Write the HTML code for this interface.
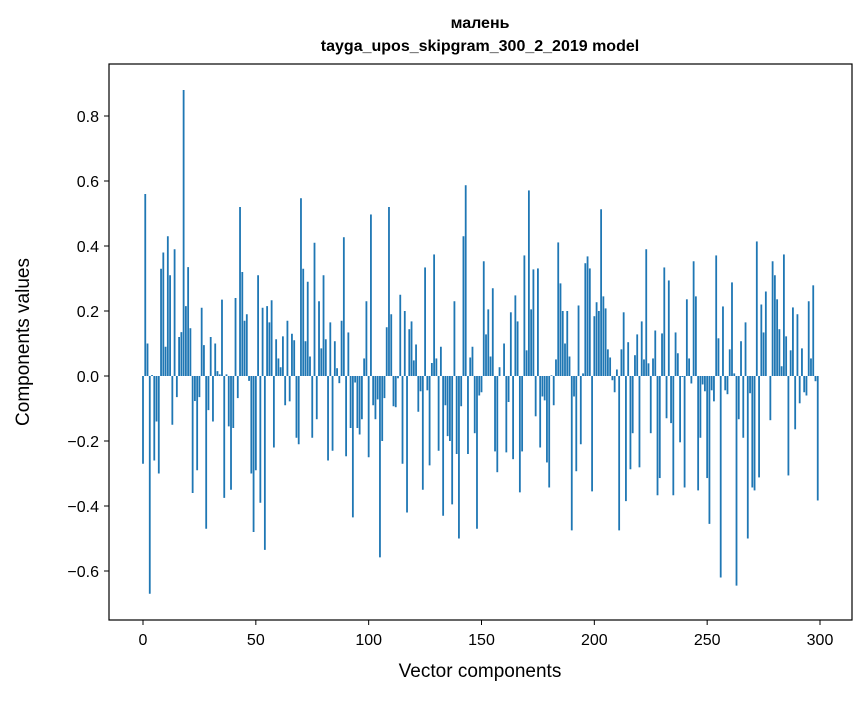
<!DOCTYPE html>
<html><head><meta charset="utf-8"><style>
body{margin:0;background:#fff;}
svg{font-family:"Liberation Sans","DejaVu Sans",sans-serif;}
</style></head><body>
<svg id="chart" width="867" height="696" viewBox="0 0 867 696" xmlns="http://www.w3.org/2000/svg">
<rect width="867" height="696" fill="#fff"/>
<text x="480" y="28" text-anchor="middle" font-size="16" font-weight="bold">малень</text>
<text x="480" y="51" text-anchor="middle" font-size="16" font-weight="bold">tayga_upos_skipgram_300_2_2019 model</text>
<g id="bars"></g>
<g id="axes"></g>
<rect x="109" y="64" width="743" height="556" fill="none" stroke="#000" stroke-width="1.2"/>
<text x="480" y="677" text-anchor="middle" font-size="19">Vector components</text>
<text transform="translate(29,342) rotate(-90)" text-anchor="middle" font-size="19">Components values</text>
</svg>
<script>
const values = [-0.27,0.56,0.10,-0.67,0.003,-0.26,-0.14,-0.30,0.33,0.38,0.09,0.43,0.31,-0.15,0.39,-0.065,0.12,0.135,0.88,0.215,
0.335,0.147,-0.36,-0.077,-0.29,-0.065,0.21,0.095,-0.47,-0.105,0.12,-0.14,0.10,0.015,0.005,0.235,-0.375,0.005,-0.155,-0.35,
-0.16,0.24,-0.068,0.52,0.32,0.17,0.19,-0.015,-0.30,-0.48,-0.29,0.31,-0.39,0.21,-0.535,0.215,0.165,0.233,-0.22,0.113,
0.054,0.027,0.122,-0.09,0.17,-0.078,0.13,0.11,-0.19,-0.21,0.547,0.33,0.107,0.29,0.06,-0.19,0.41,-0.133,0.23,0.085,
0.31,0.113,-0.26,0.165,-0.23,0.107,0.024,-0.022,0.17,0.427,-0.247,0.134,-0.16,-0.435,-0.02,-0.16,-0.18,-0.133,0.054,0.23,
-0.25,0.497,-0.09,-0.133,-0.072,-0.558,-0.2,-0.068,0.15,0.52,0.19,-0.093,-0.096,-0.007,0.25,-0.27,0.2,-0.42,0.144,0.168,
0.048,0.097,-0.11,-0.047,-0.35,0.334,-0.044,-0.275,0.04,0.374,0.054,-0.23,0.09,-0.43,-0.09,-0.185,-0.2,-0.395,0.23,-0.24,
-0.5,-0.093,0.43,0.587,-0.24,0.057,0.09,-0.176,-0.47,-0.06,-0.05,0.353,0.128,0.205,0.06,0.27,-0.232,-0.296,0.027,0.0,
0.1,-0.235,-0.08,0.196,-0.256,0.248,0.168,-0.358,-0.232,0.371,0.079,0.571,0.205,0.328,-0.124,0.331,-0.22,-0.063,-0.075,-0.266,
-0.343,0.002,-0.09,0.051,0.411,0.285,0.2,0.1,0.2,0.06,-0.475,-0.063,-0.293,0.217,-0.21,0.008,0.347,0.368,0.331,-0.355,
0.184,0.227,0.2,0.513,0.245,0.208,0.082,0.057,-0.013,-0.05,0.02,-0.475,0.082,0.196,-0.385,0.104,-0.287,-0.176,0.064,0.128,
-0.281,0.168,0.051,0.39,0.039,-0.176,0.054,0.14,-0.367,-0.314,0.131,0.334,-0.13,0.294,-0.145,-0.367,0.134,0.07,-0.204,-0.003,
-0.343,0.236,0.054,-0.023,0.353,0.245,-0.352,-0.19,-0.026,-0.047,-0.314,-0.455,-0.044,-0.078,0.371,0.116,-0.62,0.214,-0.044,-0.056,
0.082,0.288,0.008,-0.645,-0.133,0.107,-0.19,0.165,-0.5,-0.053,-0.343,-0.352,0.414,-0.312,0.22,0.134,0.26,0.0,-0.136,0.353,
0.31,0.236,0.144,0.03,0.374,0.122,-0.306,0.079,0.211,-0.164,0.19,-0.084,0.085,-0.05,-0.06,0.23,0.054,0.279,-0.016,-0.383];
const xTicks = [0,50,100,150,200,250,300];
const yTicks = [-0.6,-0.4,-0.2,0.0,0.2,0.4,0.6,0.8];
const yTickLabels = ["\u22120.6","\u22120.4","\u22120.2","0.0","0.2","0.4","0.6","0.8"];

const NS = "http://www.w3.org/2000/svg";
function xs(v){return 143 + v*677/300;}
function ys(v){return 376 - v*325;}
const bars = document.getElementById('bars');
values.forEach((v,i)=>{
  const r = document.createElementNS(NS,'rect');
  const w = 0.8*677/300;
  r.setAttribute('x', xs(i)-w/2);
  r.setAttribute('y', Math.min(ys(v), ys(0)));
  r.setAttribute('width', w);
  r.setAttribute('height', Math.abs(ys(v)-ys(0)));
  r.setAttribute('fill', '#1f77b4');
  
  
  bars.appendChild(r);
});
const axes = document.getElementById('axes');
xTicks.forEach(t=>{
  const l = document.createElementNS(NS,'line');
  l.setAttribute('x1',xs(t));l.setAttribute('x2',xs(t));
  l.setAttribute('y1',620);l.setAttribute('y2',625);
  l.setAttribute('stroke','#000');
  
  
  axes.appendChild(l);
  const tx = document.createElementNS(NS,'text');
  tx.setAttribute('x',xs(t));tx.setAttribute('y',645);
  tx.setAttribute('text-anchor','middle');tx.setAttribute('font-size','16');
  tx.textContent = String(t);
  
  
  axes.appendChild(tx);
});
yTicks.forEach((t,k)=>{
  const l = document.createElementNS(NS,'line');
  l.setAttribute('x1',104);l.setAttribute('x2',109);
  l.setAttribute('y1',ys(t));l.setAttribute('y2',ys(t));
  l.setAttribute('stroke','#000');
  
  
  axes.appendChild(l);
  const tx = document.createElementNS(NS,'text');
  tx.setAttribute('x',99);tx.setAttribute('y',ys(t)+6);
  tx.setAttribute('text-anchor','end');tx.setAttribute('font-size','16');
  tx.textContent = yTickLabels[k];
  
  
  axes.appendChild(tx);
});
</script>
</body></html>
